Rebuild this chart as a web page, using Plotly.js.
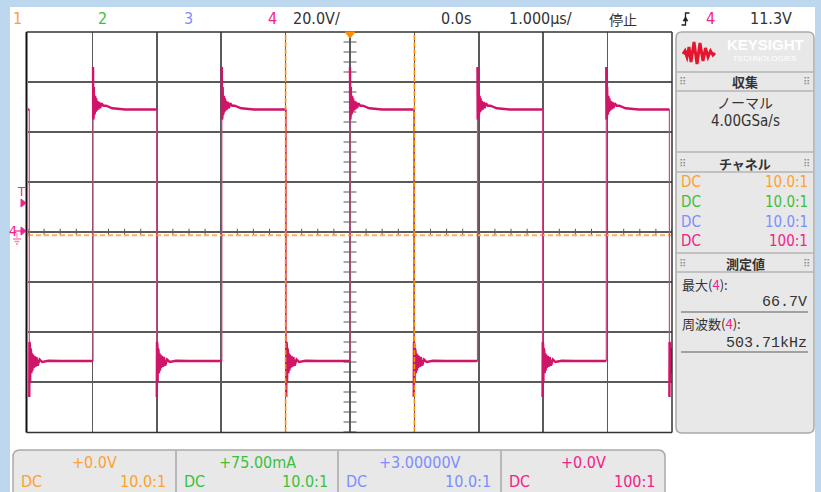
<!DOCTYPE html>
<html><head><meta charset="utf-8">
<script src="https://cdn.plot.ly/plotly-3.0.1.min.js"></script>
<style>html,body{margin:0;padding:0;background:#fff;overflow:hidden}#chart{width:821px;height:492px}</style>
</head><body><div id="chart"></div>
<script>
// ---------- data ----------
const timeRangeUs = [-5, 5];            // 1.000 µs/div, 10 divisions
const voltRange   = [-80, 80];          // 20.0 V/div, 8 divisions
const risingEdgesUs  = [-3.99, -1.99, 0.00, 1.98, 3.98];
const fallingEdgesUs = [-4.98, -3.00, -0.99, 0.99, 2.99, 4.96];
const highLevelV = 49.0;
const lowLevelV  = -51.6;
const riseRingDtUs = [0, 0.003, 0.006, 0.009, 0.013, 0.017, 0.022, 0.027, 0.033, 0.040, 0.048, 0.057, 0.067, 0.080, 0.095, 0.110, 0.130, 0.160, 0.200, 0.300, 0.500];
const riseRingV    = [66, 45, 62, 46, 58, 47, 56, 47.5, 54.5, 48, 53.5, 48.5, 52.5, 49, 52, 49.5, 51.5, 50.5, 50.5, 49.5, 49];
const fallRingDtUs = [0, 0.003, 0.006, 0.009, 0.013, 0.017, 0.022, 0.027, 0.033, 0.040, 0.048, 0.057, 0.067, 0.080, 0.095, 0.110, 0.130, 0.160, 0.200, 0.300, 0.500];
const fallRingV    = [-66, -44, -63, -45, -60, -46.5, -58, -47.5, -56.5, -48.5, -55.5, -49, -54.5, -49.5, -54, -50, -53.5, -51, -52, -51.5, -51.6];
const ch1LevelV = -1.3;
const cursorTimesUs = [-1.0, 1.0];

const headerLabels = ['1', '2', '3', '4'];
const chanCoupling = ['DC', 'DC', 'DC', 'DC'];
const chanProbe    = ['10.0:1', '10.0:1', '10.0:1', '100:1'];
const chanOffset   = ['+0.0V', '+75.00mA', '+3.00000V', '+0.0V'];
const chanColors   = ['#ffa030', '#3cc03c', '#7d8dff', '#f5208a'];

// ---------- build waveform from edges ----------
const edges = [];
risingEdgesUs.forEach(t => edges.push({t: t, rise: true}));
fallingEdgesUs.forEach(t => edges.push({t: t, rise: false}));
edges.sort((a, b) => a.t - b.t);
const wx = [], wy = [], ex = [], ey = [];
wx.push(timeRangeUs[0], edges[0].t, null);
const startLvl = edges[0].rise ? lowLevelV : highLevelV;
wy.push(startLvl, startLvl, null);
edges.forEach((e, i) => {
  const dts = e.rise ? riseRingDtUs : fallRingDtUs;
  const vs = e.rise ? riseRingV : fallRingV;
  const lvl = e.rise ? highLevelV : lowLevelV;
  const next = i + 1 < edges.length ? edges[i + 1].t : timeRangeUs[1];
  dts.forEach((d, k) => { if (e.t + d <= next) { wx.push(e.t + d); wy.push(vs[k]); } });
  wx.push(next, null); wy.push(lvl, null);
  ex.push(e.t, e.t, null); ey.push(e.rise ? lowLevelV : highLevelV, vs[0], null);
});

const traces = [
  {x: [timeRangeUs[0], timeRangeUs[1]], y: [ch1LevelV, ch1LevelV], mode: 'lines',
   line: {color: '#ffae5c', width: 2, dash: '5px,3px'}, hoverinfo: 'skip'},
  {x: ex, y: ey, mode: 'lines', line: {color: '#d2457f', width: 1.2}, hoverinfo: 'skip', connectgaps: false},
  {x: wx, y: wy, mode: 'lines', line: {color: '#d01468', width: 2.4}, hoverinfo: 'skip', connectgaps: false}
];

// ---------- layout helpers (pixel -> paper) ----------
const W = 821, H = 492;
const X = px => px / W, Y = py => 1 - py / H;
const plotL = 28, plotR = 672, plotT = 32, plotB = 432;
const shapes = [], ann = [];
function rect(x0, y0, x1, y1, fill, line, lw, layer) {
  shapes.push({type: 'rect', xref: 'paper', yref: 'paper', x0: X(x0), x1: X(x1), y0: Y(y1), y1: Y(y0),
    fillcolor: fill, line: {color: line || 'rgba(0,0,0,0)', width: lw || 0}, layer: layer || 'above'});
}
function pline(x0, y0, x1, y1, color, w, dash, layer) {
  shapes.push({type: 'line', xref: 'paper', yref: 'paper', x0: X(x0), x1: X(x1), y0: Y(y0), y1: Y(y1),
    line: {color: color, width: w, dash: dash || 'solid'}, layer: layer || 'above'});
}
function ppath(pts, close, fill, color, w) {
  let d = 'M' + pts.map(p => X(p[0]) + ',' + Y(p[1])).join(' L') + (close ? ' Z' : '');
  shapes.push({type: 'path', xref: 'paper', yref: 'paper', path: d, fillcolor: fill || 'rgba(0,0,0,0)',
    line: {color: color || 'rgba(0,0,0,0)', width: w || 0}, layer: 'above'});
}
function rr(x0, y0, x1, y1, r, fill, line, lw) {
  const d = `M${X(x0 + r)},${Y(y0)} L${X(x1 - r)},${Y(y0)} Q${X(x1)},${Y(y0)} ${X(x1)},${Y(y0 + r)} L${X(x1)},${Y(y1 - r)} Q${X(x1)},${Y(y1)} ${X(x1 - r)},${Y(y1)} L${X(x0 + r)},${Y(y1)} Q${X(x0)},${Y(y1)} ${X(x0)},${Y(y1 - r)} L${X(x0)},${Y(y0 + r)} Q${X(x0)},${Y(y0)} ${X(x0 + r)},${Y(y0)} Z`;
  shapes.push({type: 'path', xref: 'paper', yref: 'paper', path: d, fillcolor: fill, line: {color: line, width: lw}, layer: 'above'});
}
const NARROW = '"Liberation Sans Narrow", "DejaVu Sans Condensed", "Roboto Condensed", sans-serif';
const CJK = '"Noto Sans CJK JP", sans-serif';
const MONO = '"Liberation Mono", "DejaVu Sans Mono", monospace';
function txt(text, px, py, anchor, color, size, family) {
  ann.push({text: text, xref: 'paper', yref: 'paper', x: X(px), y: Y(py), xanchor: anchor, yanchor: 'middle',
    showarrow: false, font: {color: color, size: size, family: family || NARROW}});
}

// ---------- frame / background ----------
rect(0, 0, W, 7, '#bdd7ee', null, 0, 'below');
rect(0, 0, 10, H, '#bdd7ee', null, 0, 'below');
rect(815, 0, W, H, '#bdd7ee', null, 0, 'below');

// center crosshair minor ticks (data coords)
for (let t = -5; t <= 5.001; t += 0.25) {
  shapes.push({type: 'line', xref: 'x', yref: 'y', x0: t, x1: t, y0: -1.3, y1: 1.3, line: {color: '#555', width: 1}, layer: 'below'});
}
for (let v = -80; v <= 80.001; v += 4) {
  shapes.push({type: 'line', xref: 'x', yref: 'y', x0: -0.1, x1: 0.1, y0: v, y1: v, line: {color: '#555', width: 1}, layer: 'below'});
}
// cursors
cursorTimesUs.forEach(t => shapes.push({type: 'line', xref: 'x', yref: 'paper', x0: t, x1: t, y0: Y(plotB), y1: Y(plotT),
  line: {color: '#ff8c00', width: 1.6, dash: '5px,2px'}, layer: 'above'}));
// plot border
pline(26.5, plotT, 26.5, plotB + 0.5, '#111', 2);
pline(26.5, plotT, plotR, plotT, '#333', 1.5);
pline(26.5, plotB + 0.5, plotR, plotB + 0.5, '#333', 1.5);
pline(plotR, plotT, plotR, plotB + 0.5, '#333', 1.5);
// trigger position marker
ppath([[345, 32], [355, 32], [350, 38]], true, '#ff8c00', '#ff8c00', 1);

// left markers
txt('T', 21.5, 191, 'center', '#f5208a', 13);
ppath([[21, 199], [21, 207], [26, 203]], true, '#f5208a', '#f5208a', 1);
txt('4', 12.5, 231, 'center', '#f5208a', 14);
pline(14, 231, 21, 231, '#f5208a', 1.2);
ppath([[21, 227], [21, 235], [26, 231]], true, '#f5208a', '#f5208a', 1);
pline(17, 233, 17, 238, '#ff85b5', 1.2);
pline(13, 239, 21, 239, '#ff85b5', 1.5);
pline(14.5, 241.5, 19.5, 241.5, '#ff85b5', 1.5);
pline(16, 244, 18, 244, '#ff85b5', 1.5);

// ---------- header ----------
const headerX = [17, 102, 188, 272];
headerLabels.forEach((s, i) => txt(s, headerX[i], 19, 'center', chanColors[i], 16));
txt('20.0V/', 291, 19, 'left', '#333', 16);
txt('0.0s', 456, 19, 'center', '#333', 16);
txt('1.000µs/', 540, 19, 'center', '#333', 16);
txt('停止', 623, 19, 'center', '#333', 14, CJK);
ppath([[681.5, 25], [685.5, 25], [685.5, 13], [689.5, 13]], false, null, '#222', 1.3);
ppath([[683, 21], [688, 21], [685.5, 16.5]], true, '#222', '#222', 0.5);
txt('4', 710, 19, 'center', '#f5208a', 16);
txt('11.3V', 771, 19, 'center', '#333', 16);

// ---------- right panel ----------
rr(676, 32, 814, 433, 6, '#e8e8e8', '#a9a9a9', 1.5);
// keysight logo
ppath([[683, 54], [685, 51], [687, 57], [689, 47], [691, 62], [694, 42], [697, 64], [700, 43], [703, 61], [705.5, 48], [708, 57], [710.5, 51], [713, 55], [715, 53]], false, null, '#e4162f', 3);
ann.push({text: '<b>KEYSIGHT</b>', xref: 'paper', yref: 'paper', x: X(765), y: Y(45), xanchor: 'center', yanchor: 'middle', showarrow: false,
  font: {color: '#ffffff', size: 15, family: '"Liberation Sans", Arial, sans-serif'}});
ann.push({text: 'TECHNOLOGIES', xref: 'paper', yref: 'paper', x: X(765), y: Y(58.5), xanchor: 'center', yanchor: 'middle', showarrow: false,
  font: {color: '#ffffff', size: 8, family: '"Liberation Sans", Arial, sans-serif'}});
[72, 91, 152, 172, 253, 272].forEach(y => pline(677, y, 813, y, '#b4b4b4', 1.5));
pline(681, 312, 808, 312, '#8a8a8a', 1.3);
pline(681, 352, 808, 352, '#8a8a8a', 1.3);
[[82, '収集'], [163, 'チャネル'], [263, '測定値']].forEach(([y, s]) => {
  txt('<b>' + s + '</b>', 745, y, 'center', '#333', 13, CJK);
  txt('⠿', 682, y, 'center', '#888', 10, '"DejaVu Sans", sans-serif');
  txt('⠿', 806, y, 'center', '#888', 10, '"DejaVu Sans", sans-serif');
});
txt('ノーマル', 745, 102, 'center', '#333', 14, CJK);
txt('4.00GSa/s', 745, 121, 'center', '#333', 15);
const panelRowY = [182, 202, 222, 241];
chanCoupling.forEach((s, i) => {
  txt(s, 679, panelRowY[i], 'left', chanColors[i], 15);
  txt(chanProbe[i], 810, panelRowY[i], 'right', chanColors[i], 15);
});
txt('最大(<span style="color:#f5208a">4</span>):', 680, 284, 'left', '#333', 13, CJK);
txt('66.7V', 809, 302, 'right', '#333', 15, MONO);
txt('周波数(<span style="color:#f5208a">4</span>):', 680, 323, 'left', '#333', 13, CJK);
txt('503.71kHz', 809, 343, 'right', '#333', 15, MONO);

// ---------- bottom channel boxes ----------
rr(13, 450, 665, 520, 7, '#e8e8e8', '#a9a9a9', 1.5);
const boxL = [13, 176, 338, 501], boxR = [176, 338, 501, 665];
[176, 338, 501].forEach(x => pline(x, 451, x, H, '#a9a9a9', 1.5));
chanOffset.forEach((s, i) => {
  txt(s, (boxL[i] + boxR[i]) / 2, 462, 'center', chanColors[i], 16);
  txt(chanCoupling[i], boxL[i] + 6, 481, 'left', chanColors[i], 16);
  txt(chanProbe[i], boxR[i] - 8, 481, 'right', chanColors[i], 16);
});

const layout = {
  width: W, height: H, margin: {l: 0, r: 0, t: 0, b: 0, pad: 0},
  paper_bgcolor: '#ffffff', plot_bgcolor: 'rgba(0,0,0,0)', showlegend: false,
  xaxis: {domain: [X(plotL), X(plotR)], range: timeRangeUs, tick0: 0, dtick: 1, showgrid: true, gridcolor: '#5a5a5a', gridwidth: 1.6,
    zeroline: false, showticklabels: false, ticks: '', showline: false, fixedrange: true},
  yaxis: {domain: [Y(plotB), Y(plotT)], range: voltRange, tick0: 0, dtick: 20, showgrid: true, gridcolor: '#5a5a5a', gridwidth: 1.6,
    zeroline: false, showticklabels: false, ticks: '', showline: false, fixedrange: true},
  shapes: shapes, annotations: ann
};
Plotly.newPlot('chart', traces, layout, {staticPlot: true, displayModeBar: false});
</script></body></html>
